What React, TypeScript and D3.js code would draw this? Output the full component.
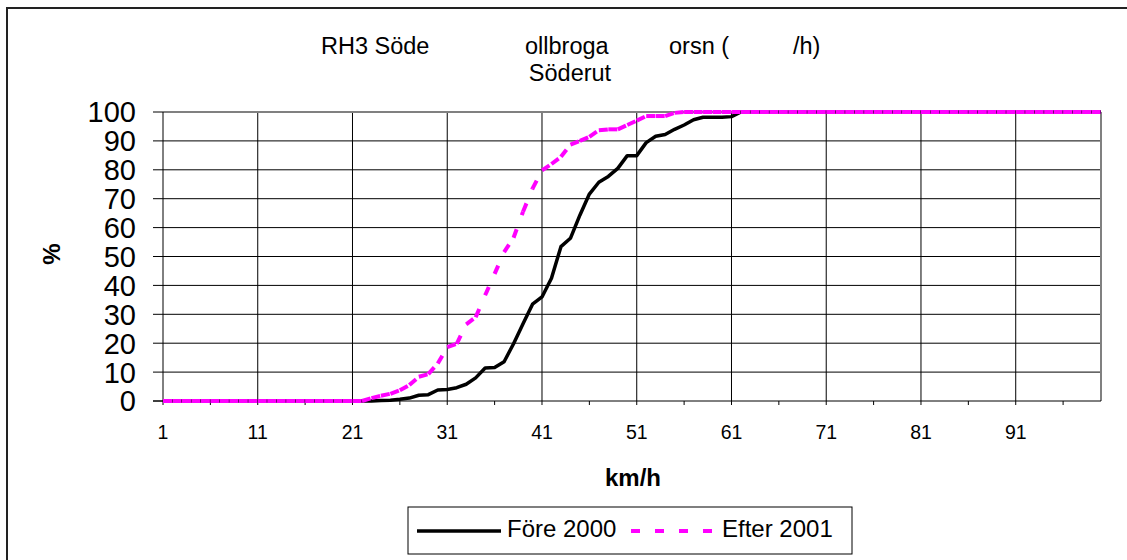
import React from "react";
import * as d3 from "d3";

const categories: number[] = d3.range(1, 101);

const fore2000: number[] = [
  0, 0, 0, 0, 0, 0, 0, 0, 0, 0,
  0, 0, 0, 0, 0, 0, 0, 0, 0, 0,
  0, 0, 0, 0.2, 0.3, 0.6, 1, 2, 2.2, 3.8,
  4, 4.6, 5.8, 8, 11.4, 11.6, 13.6, 19.8, 26.7, 33.5,
  36, 42.5, 53.4, 56.3, 64.3, 71.6, 75.7, 77.7, 80.5, 84.9,
  84.9, 89.4, 91.6, 92.2, 94, 95.5, 97.3, 98.2, 98.2, 98.2,
  98.4, 100, 100, 100, 100, 100, 100, 100, 100, 100,
  100, 100, 100, 100, 100, 100, 100, 100, 100, 100,
  100, 100, 100, 100, 100, 100, 100, 100, 100, 100,
  100, 100, 100, 100, 100, 100, 100, 100, 100, 100,
];

const efter2001: number[] = [
  0, 0, 0, 0, 0, 0, 0, 0, 0, 0,
  0, 0, 0, 0, 0, 0, 0, 0, 0, 0,
  0, 0, 1, 1.8, 2.5, 3.7, 5.5, 8.4, 9.3, 13,
  18.6, 19.8, 26.5, 29, 36.6, 44, 51.5, 56.5, 65.5, 73.5,
  79.8, 82, 84.5, 88.7, 90, 91.4, 93.7, 94, 94, 95.5,
  97, 98.6, 98.6, 98.6, 99.7, 100, 100, 100, 100, 100,
  100, 100, 100, 100, 100, 100, 100, 100, 100, 100,
  100, 100, 100, 100, 100, 100, 100, 100, 100, 100,
  100, 100, 100, 100, 100, 100, 100, 100, 100, 100,
  100, 100, 100, 100, 100, 100, 100, 100, 100, 100,
];

const xTickLabels: number[] = [1, 11, 21, 31, 41, 51, 61, 71, 81, 91];
const yTicks: number[] = [0, 10, 20, 30, 40, 50, 60, 70, 80, 90, 100];
const seriesNames: string[] = ["Före 2000", "Efter 2001"];
const titlePieces: string[] = ["RH3 Söde", "ollbroga", "orsn (", "/h)"];
const subtitle = "Söderut";
const xTitle = "km/h";
const yTitle = "%";

export default function App() {
  const W = 1127;
  const H = 560;
  const left = 163;
  const right = 1101;
  const top = 112;
  const bottom = 401;

  const x = d3.scaleLinear().domain([1, 100]).range([left, right]);
  const y = d3.scaleLinear().domain([0, 100]).range([bottom, top]);

  const line = d3
    .line<number>()
    .x((_, i) => x(categories[i]))
    .y((d) => y(d));

  const minorTicks = d3.range(1, 101, 5);
  const font = "'Liberation Sans', Arial, sans-serif";

  const titleX = [321, 525, 669, 793];

  return (
    <svg
      width={W}
      height={H}
      style={{ position: "absolute", left: 0, top: 0, background: "#fff" }}
      fontFamily={font}
    >
      <rect x={0} y={0} width={W} height={H} fill="#fff" />
      {/* outer chart frame */}
      <rect x={7} y={8} width={W + 20} height={H + 20} fill="none" stroke="#222" strokeWidth={2} />

      {/* title */}
      {titlePieces.map((t, i) => (
        <text key={i} x={titleX[i]} y={54} fontSize={23.5} fill="#000">
          {t}
        </text>
      ))}
      <text x={570} y={81} fontSize={23.5} textAnchor="middle" fill="#000">
        {subtitle}
      </text>

      {/* horizontal gridlines */}
      {yTicks
        .filter((v) => v > 0 && v < 100)
        .map((v) => (
          <line key={"h" + v} x1={left} x2={right} y1={y(v)} y2={y(v)} stroke="#000" strokeWidth={1} />
        ))}
      {/* vertical gridlines */}
      {xTickLabels
        .filter((c) => c > 1)
        .map((c) => (
          <line key={"v" + c} x1={x(c)} x2={x(c)} y1={top} y2={bottom} stroke="#000" strokeWidth={1} />
        ))}
      {/* plot border top/right */}
      <line x1={left} x2={right} y1={top} y2={top} stroke="#808080" strokeWidth={2} />
      <line x1={right} x2={right} y1={top} y2={bottom} stroke="#808080" strokeWidth={2} />
      {/* y axis */}
      <line x1={left} x2={left} y1={top} y2={bottom} stroke="#000" strokeWidth={1} />
      {yTicks.map((v) => (
        <g key={"yt" + v}>
          <line x1={left - 10} x2={left} y1={y(v)} y2={y(v)} stroke="#000" strokeWidth={1} />
          <text x={136} y={y(v)} dy="0.36em" fontSize={29} textAnchor="end" fill="#000">
            {v}
          </text>
        </g>
      ))}
      {/* x axis */}
      <line x1={left - 10} x2={right} y1={bottom} y2={bottom} stroke="#000" strokeWidth={1} />
      {minorTicks.map((c) => (
        <line key={"xt" + c} x1={x(c)} x2={x(c)} y1={bottom} y2={bottom + 4} stroke="#000" strokeWidth={1} />
      ))}
      {xTickLabels.map((c) => (
        <text key={"xl" + c} x={x(c)} y={439} fontSize={19.5} textAnchor="middle" fill="#000">
          {c}
        </text>
      ))}

      {/* series */}
      <path d={line(fore2000) || ""} fill="none" stroke="#000" strokeWidth={3.5} strokeLinejoin="round" />
      {efter2001.slice(1).map((v, i) => (
        <line
          key={"m" + i}
          x1={x(categories[i])}
          y1={y(efter2001[i])}
          x2={x(categories[i + 1])}
          y2={y(v)}
          stroke="#ff00ff"
          strokeWidth={4}
          strokeDasharray="9,15"
        />
      ))}

      {/* axis titles */}
      <text x={633} y={486} fontSize={24} fontWeight="bold" textAnchor="middle" fill="#000">
        {xTitle}
      </text>
      <text
        transform={`translate(60,254) rotate(-90)`}
        fontSize={24}
        fontWeight="bold"
        textAnchor="middle"
        fill="#000"
      >
        {yTitle}
      </text>

      {/* legend */}
      <rect x={408} y={507} width={444} height={47} fill="#fff" stroke="#000" strokeWidth={1} />
      <line x1={417} x2={501} y1={531} y2={531} stroke="#000" strokeWidth={3.5} />
      <text x={507} y={535} dy="0.1em" fontSize={24} fill="#000">
        {seriesNames[0]}
      </text>
      <line x1={631} x2={713} y1={531} y2={531} stroke="#ff00ff" strokeWidth={4} strokeDasharray="9,15" />
      <text x={722} y={535} dy="0.1em" fontSize={24} fill="#000">
        {seriesNames[1]}
      </text>
    </svg>
  );
}
